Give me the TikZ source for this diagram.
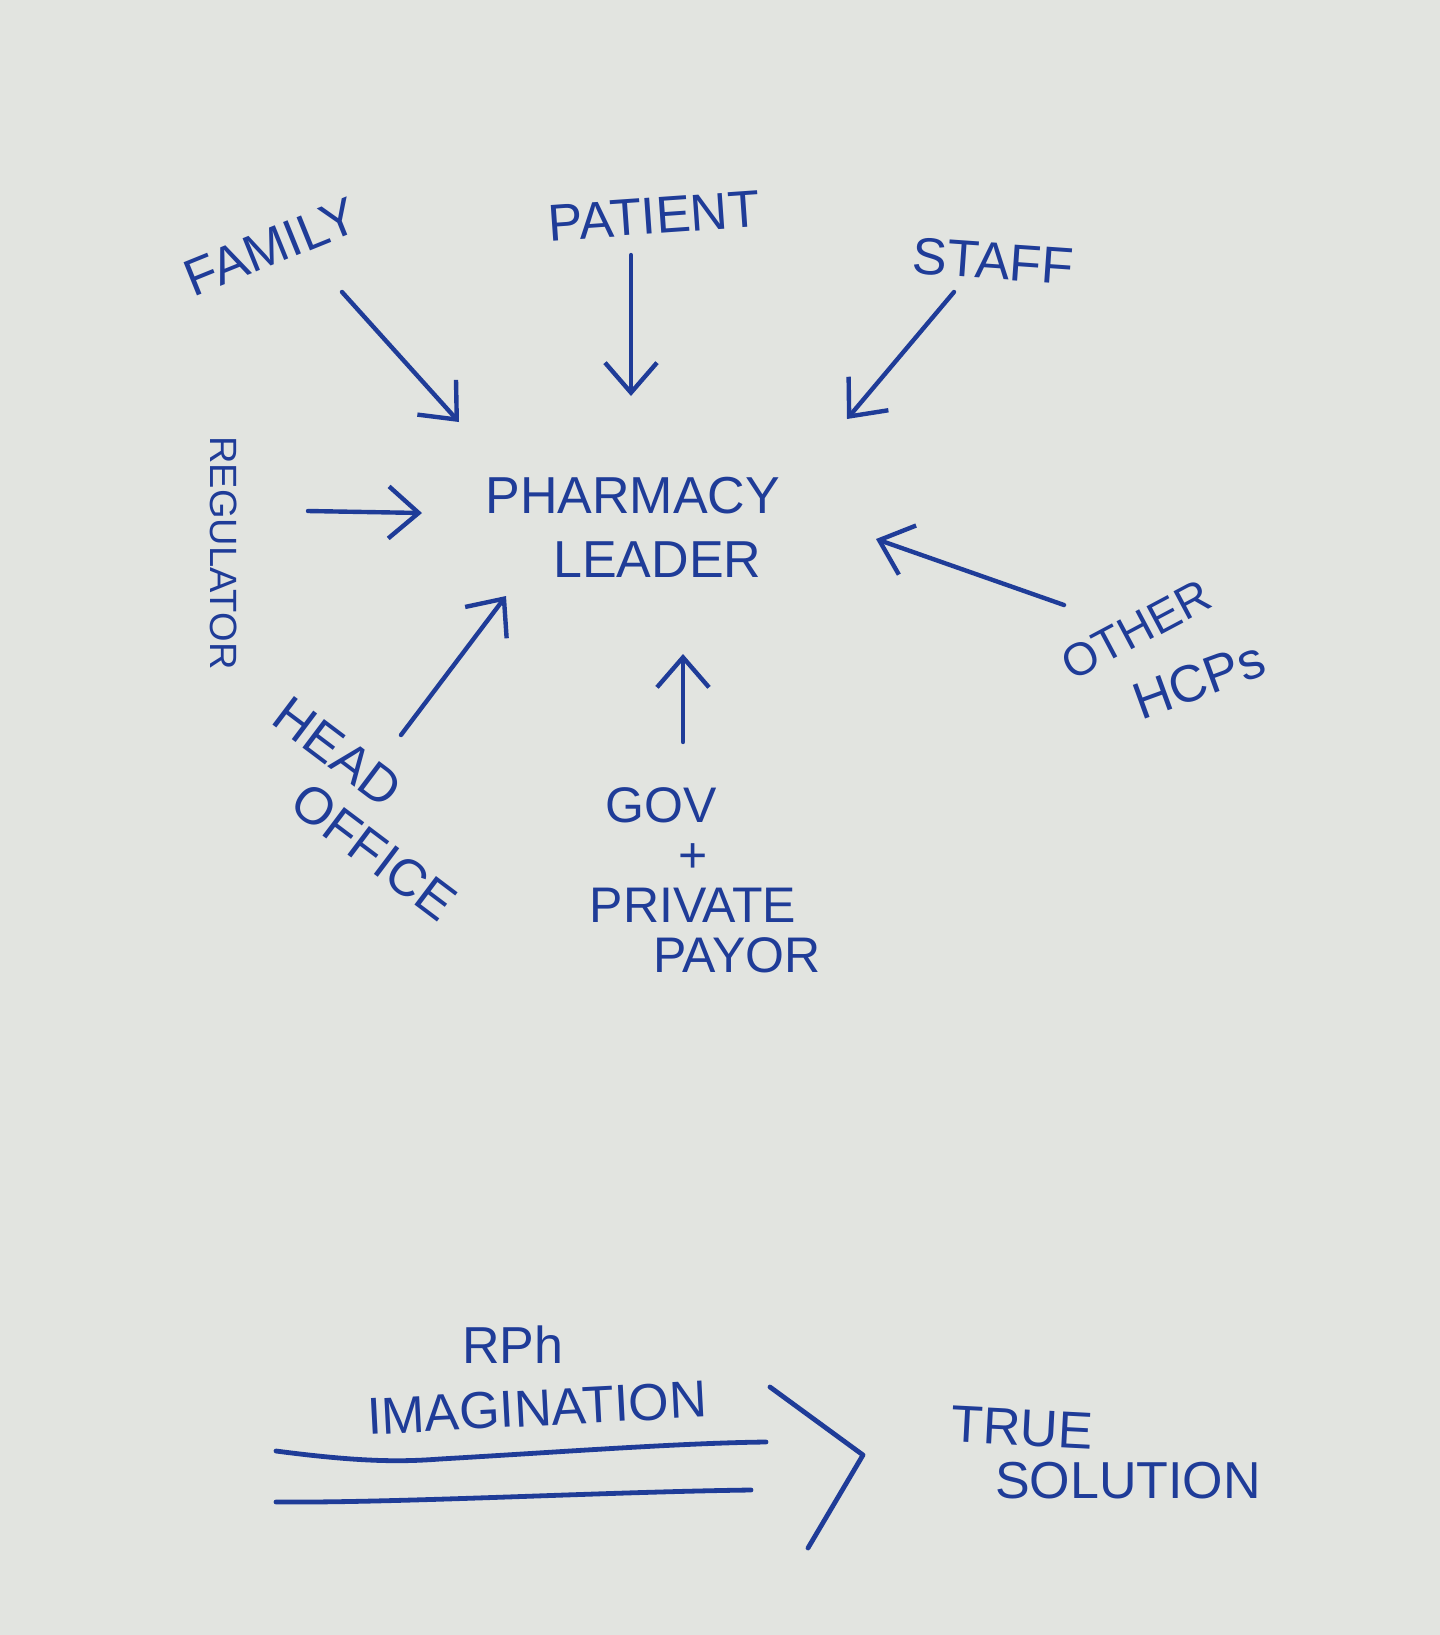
\documentclass[tikz,border=0pt]{standalone}
\usepackage{fontspec}
\setmainfont{Liberation Sans}
\usetikzlibrary{arrows.meta}
\definecolor{inkblue}{HTML}{1F3C98}
\definecolor{paper}{HTML}{E2E4E0}

\begin{document}
\begin{tikzpicture}[x=0.5pt, y=-0.5pt,
  lbl/.style={text=inkblue, inner sep=0pt, font=\fontsize{26}{32}\selectfont},
  arr/.style={-{Straight Barb[length=15pt,width=26pt]}, line width=2.2pt, inkblue, line cap=round},
  ink/.style={line width=2.4pt, inkblue, line cap=round, line join=round}]

\fill[paper] (0,0) rectangle (1440,1635);
\useasboundingbox (0,0) rectangle (1440,1635);

\node[lbl, rotate=22] at (271,247) (family) {FAMILY};
\node[lbl, rotate=4] at (654,216) (patient) {PATIENT};
\node[lbl, rotate=-4] at (993,261) (staff) {STAFF};
\node[lbl, anchor=west, align=left] at (485,527) (leader) {PHARMACY\\\hspace*{34pt}LEADER};
\node[lbl, rotate=-90, font=\fontsize{19}{22}\selectfont] at (224,553) (regulator) {REGULATOR};
\node[lbl, rotate=-37] at (338,752) (head) {HEAD};
\node[lbl, rotate=-37] at (374,852) (office) {OFFICE};
\node[lbl, align=center, font=\fontsize{25}{25}\selectfont] at (693,880) (payor)
  {GOV\hspace*{32pt}\\+\hspace*{18pt}\\PRIVATE\\\hspace*{44pt}PAYOR};
\node[lbl, rotate=28, font=\fontsize{23}{28}\selectfont] at (1136,630) (other) {OTHER};
\node[lbl, rotate=20] at (1199,680) (hcps) {HCPs};

% arrow ends
\coordinate (famtail) at (342,292);  \coordinate (famhead) at (459,422);
\coordinate (pattail) at (631,255);  \coordinate (pathead) at (631,396);
\coordinate (stftail) at (954,292);  \coordinate (stfhead) at (847,419);
\coordinate (regtail) at (308,511);  \coordinate (reghead) at (422,513);
\coordinate (hodtail) at (401,735);  \coordinate (hodhead) at (506,596);
\coordinate (govtail) at (683,742);  \coordinate (govhead) at (683,654);
\coordinate (hcptail) at (1064,605); \coordinate (hcphead) at (876,539);

\draw[arr] (famtail) -- (famhead); \draw[arr] (pattail) -- (pathead);
\draw[arr] (stftail) -- (stfhead); \draw[arr] (regtail) -- (reghead);
\draw[arr] (hodtail) -- (hodhead); \draw[arr] (govtail) -- (govhead);
\draw[arr] (hcptail) -- (hcphead);

% bottom
\node[lbl] at (513,1345) (rph) {RPh};
\node[lbl, rotate=3] at (537,1408) (imagination) {IMAGINATION};
\node[lbl, rotate=-3] at (1022,1428) (truesol) {TRUE};
\node[lbl] at (1128,1481) (solution) {SOLUTION};

\draw[ink] (276,1451) .. controls (360,1462) and (400,1462) .. (440,1459)
  .. controls (560,1452) and (680,1443) .. (766,1442);
\draw[ink] (276,1502) .. controls (400,1503) and (600,1492) .. (751,1490);
\draw[ink] (770,1387) -- (863,1455) -- (808,1548);
\end{tikzpicture}
\end{document}
